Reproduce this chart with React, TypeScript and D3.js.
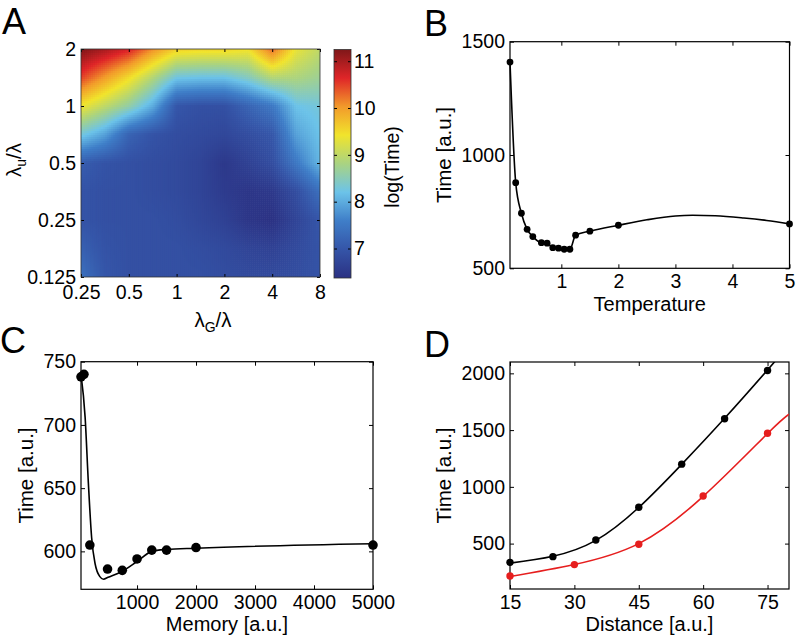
import React, { useRef, useEffect } from 'react';
import * as d3 from 'd3';

const FONT = '"Liberation Sans", Arial, Helvetica, sans-serif';

// ---- Panel A: log(Time) over lambda_G/lambda (columns) and lambda_u/lambda (rows)
const lambdaG = [0.25, 0.354, 0.5, 0.707, 1, 1.414, 2, 2.83, 4, 5.66, 8];
const lambdaU = [2, 1.414, 1, 0.707, 0.5, 0.354, 0.25, 0.177, 0.125];
const logTime = [
  [11.25, 11.0, 10.7, 10.1, 9.6, 9.55, 9.55, 9.45, 10.3, 9.35, 9.0],
  [10.5, 10.0, 9.5, 8.9, 8.25, 8.2, 8.2, 8.45, 8.9, 8.85, 8.7],
  [9.4, 9.0, 8.6, 8.0, 7.0, 6.9, 6.9, 7.2, 7.5, 8.2, 8.3],
  [8.3, 7.9, 7.2, 6.95, 6.85, 6.8, 6.75, 6.85, 7.0, 7.9, 8.2],
  [7.1, 6.95, 6.9, 6.85, 6.8, 6.7, 6.5, 6.65, 6.85, 7.5, 8.1],
  [6.95, 6.9, 6.9, 6.85, 6.8, 6.7, 6.55, 6.45, 6.5, 6.85, 7.4],
  [6.95, 6.9, 6.9, 6.9, 6.85, 6.75, 6.65, 6.45, 6.38, 6.7, 7.0],
  [7.15, 6.95, 6.9, 6.9, 6.9, 6.85, 6.8, 6.7, 6.65, 6.8, 6.95],
  [7.4, 7.0, 6.9, 6.9, 6.9, 6.9, 6.85, 6.8, 6.8, 6.85, 6.95],
];
const lambdaGTicks = [0.25, 0.5, 1, 2, 4, 8];
const lambdaGLabels = ['0.25', '0.5', '1', '2', '4', '8'];
const lambdaUTicks = [0.125, 0.25, 0.5, 1, 2];
const lambdaULabels = ['0.125', '0.25', '0.5', '1', '2'];
const colorbarTicks = [7, 8, 9, 10, 11];
const colorbarExtent = [6.37, 11.25];
const jetColors = ['#2b3183', '#3555a8', '#3f7ec8', '#6cc3e9', '#a9d382', '#f1e42c', '#f29a2b', '#df2528', '#7f1719'];

// ---- Panel B
const temperature = [0.1, 0.2, 0.3, 0.4, 0.5, 0.65, 0.75, 0.85, 0.95, 1.05, 1.15, 1.25, 1.5, 2, 5];
const timeB = [1410, 878, 743, 672, 640, 613, 611, 591, 589, 584, 584, 646, 664, 690, 696];
const temperatureFit = [0.1, 0.2, 0.3, 0.4, 0.5, 0.65, 0.75, 0.85, 0.95, 1.05, 1.15, 1.25, 1.5, 2, 2.5, 3, 3.3, 3.7, 4.2, 4.6, 5];
const timeBFit = [1410, 878, 743, 672, 640, 613, 611, 591, 589, 584, 584, 646, 664, 690, 714, 731, 734, 732, 722, 711, 696];
const temperatureTicks = [1, 2, 3, 4, 5];
const timeBTicks = [500, 1000, 1500];

// ---- Panel C
const memory = [50, 100, 200, 500, 750, 1000, 1250, 1500, 2000, 5000];
const timeC = [738, 740, 605, 586, 585, 594, 601, 601, 603, 605];
const memoryFit = [50, 120, 175, 230, 290, 370, 430, 510, 740, 1000, 1250, 1500, 2000, 5000];
const timeCFit = [740, 706, 654, 611, 590, 580, 578, 579.5, 584, 592, 600, 601.5, 602.5, 606];
const memoryTicks = [1000, 2000, 3000, 4000, 5000];
const timeCTicks = [600, 650, 700, 750];

// ---- Panel D
const distanceBlack = [15, 25, 35, 45, 55, 65, 75];
const timeBlack = [335, 385, 532, 820, 1200, 1600, 2025];
const distanceRed = [15, 30, 45, 60, 75];
const timeRed = [215, 315, 494, 919, 1472];
const distanceBlackFit = [15, 25, 35, 45, 55, 65, 75, 80];
const timeBlackFit = [328, 388, 528, 818, 1198, 1604, 2030, 2250];
const distanceRedFit = [15, 30, 45, 60, 75, 80];
const timeRedFit = [210, 316, 500, 916, 1470, 1640];
const distanceTicks = [15, 30, 45, 60, 75];
const timeDTicks = [500, 1000, 1500, 2000];

const styleAxis = (sel) => {
  sel.attr('font-size', 19.5).attr('font-family', FONT);
  sel.select('.domain').remove();
  sel.selectAll('line').attr('stroke', '#000').attr('stroke-width', 1);
  sel.selectAll('text').attr('fill', '#000');
};

// box with inward ticks on all four sides, labels on left and bottom
const drawFrame = (g, x, y, w, h, xTicks, yTicks, xFmt, yFmt) => {
  g.append('g').attr('transform', `translate(0,${h})`)
    .call(d3.axisBottom(x).tickValues(xTicks).tickSize(-4).tickSizeOuter(0).tickPadding(6).tickFormat(xFmt))
    .call(styleAxis);
  g.append('g')
    .call(d3.axisTop(x).tickValues(xTicks).tickSize(-4).tickSizeOuter(0).tickFormat(() => ''))
    .call(styleAxis);
  g.append('g')
    .call(d3.axisLeft(y).tickValues(yTicks).tickSize(-4).tickSizeOuter(0).tickPadding(5).tickFormat(yFmt))
    .call(styleAxis);
  g.append('g').attr('transform', `translate(${w},0)`)
    .call(d3.axisRight(y).tickValues(yTicks).tickSize(-4).tickSizeOuter(0).tickFormat(() => ''))
    .call(styleAxis);
  g.append('rect').attr('width', w).attr('height', h)
    .attr('fill', 'none').attr('stroke', '#000').attr('stroke-width', 1.2);
};

const addTitles = (svg, letter, lx, ly, xText, xx, xy, yText, yx, yy) => {
  svg.append('text').attr('x', lx).attr('y', ly).attr('font-size', 36).attr('font-family', FONT).text(letter);
  svg.append('text').attr('x', xx).attr('y', xy).attr('text-anchor', 'middle')
    .attr('font-size', 20).attr('font-family', FONT).text(xText);
  svg.append('text').attr('transform', `translate(${yx},${yy}) rotate(-90)`).attr('text-anchor', 'middle')
    .attr('font-size', 20.5).attr('font-family', FONT).text(yText);
};

const App = () => {
  const svgRef = useRef(null);

  useEffect(() => {
    const svg = d3.select(svgRef.current);
    svg.selectAll('*').remove();
    const defs = svg.append('defs');

    // ================= Panel A =================
    const aL = 81, aT = 49, aW = 239, aH = 228;
    const gA = svg.append('g').attr('transform', `translate(${aL},${aT})`);
    const hx = d3.scaleLog().base(2).domain([0.25, 8]).range([0, aW]);
    const hy = d3.scaleLog().base(2).domain([0.125, 2]).range([aH, 0]);
    const lo = colorbarExtent[0], hi = colorbarExtent[1];
    const color = d3.scaleLinear()
      .domain(jetColors.map((_, i) => lo + (i * (hi - lo)) / (jetColors.length - 1)))
      .range(jetColors)
      .interpolate(d3.interpolateRgb)
      .clamp(true);

    const ci = d3.scaleLog().base(2).domain([lambdaG[0], lambdaG[lambdaG.length - 1]]).range([0, lambdaG.length - 1]);
    const rj = d3.scaleLog().base(2).domain([lambdaU[0], lambdaU[lambdaU.length - 1]]).range([0, lambdaU.length - 1]);
    const valueAt = (gv, uv) => {
      const fi = Math.max(0, Math.min(lambdaG.length - 1, ci(gv)));
      const fj = Math.max(0, Math.min(lambdaU.length - 1, rj(uv)));
      const i0 = Math.min(Math.floor(fi), lambdaG.length - 2);
      const j0 = Math.min(Math.floor(fj), lambdaU.length - 2);
      const tx = fi - i0, ty = fj - j0;
      const a = logTime[j0][i0], b = logTime[j0][i0 + 1];
      const c = logTime[j0 + 1][i0], d = logTime[j0 + 1][i0 + 1];
      return (a * (1 - tx) + b * tx) * (1 - ty) + (c * (1 - tx) + d * tx) * ty;
    };

    const nx = 120, ny = 114;
    const gEdges = d3.range(nx + 1).map((k) => hx.invert((k * aW) / nx));
    const uEdges = d3.range(ny + 1).map((k) => hy.invert((k * aH) / ny));
    const cells = [];
    for (let i = 0; i < nx; i++) {
      for (let j = 0; j < ny; j++) {
        const gc = Math.sqrt(gEdges[i] * gEdges[i + 1]);
        const uc = Math.sqrt(uEdges[j] * uEdges[j + 1]);
        cells.push({ g0: gEdges[i], g1: gEdges[i + 1], u0: uEdges[j], u1: uEdges[j + 1], v: valueAt(gc, uc) });
      }
    }
    defs.append('clipPath').attr('id', 'clipA')
      .append('rect').attr('width', aW).attr('height', aH);
    gA.append('g').attr('clip-path', 'url(#clipA)')
      .selectAll('rect').data(cells).enter().append('rect')
      .attr('x', (d) => hx(d.g0))
      .attr('y', (d) => hy(d.u0))
      .attr('width', (d) => hx(d.g1) - hx(d.g0) + 0.6)
      .attr('height', (d) => hy(d.u1) - hy(d.u0) + 0.6)
      .attr('fill', (d) => color(d.v));

    gA.append('g').attr('transform', `translate(0,${aH})`)
      .call(d3.axisBottom(hx).tickValues(lambdaGTicks).tickSize(-3).tickSizeOuter(0).tickPadding(8)
        .tickFormat((d, i) => lambdaGLabels[i]))
      .call(styleAxis);
    gA.append('g')
      .call(d3.axisTop(hx).tickValues(lambdaGTicks).tickSize(-3).tickSizeOuter(0).tickFormat(() => ''))
      .call(styleAxis);
    gA.append('g')
      .call(d3.axisLeft(hy).tickValues(lambdaUTicks).tickSize(-3).tickSizeOuter(0).tickPadding(5)
        .tickFormat((d, i) => lambdaULabels[i]))
      .call(styleAxis);
    gA.append('g').attr('transform', `translate(${aW},0)`)
      .call(d3.axisRight(hy).tickValues(lambdaUTicks).tickSize(-3).tickSizeOuter(0).tickFormat(() => ''))
      .call(styleAxis);
    gA.append('rect').attr('width', aW).attr('height', aH)
      .attr('fill', 'none').attr('stroke', '#333').attr('stroke-width', 0.8);

    // colorbar
    const cbL = 334, cbW = 17, cbT = 49.5, cbH = 228.5;
    const cb = d3.scaleLinear().domain(colorbarExtent).range([cbH, 0]);
    const grad = defs.append('linearGradient').attr('id', 'jetGrad')
      .attr('x1', 0).attr('y1', 1).attr('x2', 0).attr('y2', 0);
    grad.selectAll('stop').data(color.domain()).enter().append('stop')
      .attr('offset', (d) => (cbH - cb(d)) / cbH)
      .attr('stop-color', (d) => color(d));
    const gCb = svg.append('g').attr('transform', `translate(${cbL},${cbT})`);
    gCb.append('rect').attr('width', cbW).attr('height', cbH).attr('fill', 'url(#jetGrad)');
    gCb.append('g').attr('transform', `translate(${cbW},0)`)
      .call(d3.axisRight(cb).tickValues(colorbarTicks).tickSize(-3).tickSizeOuter(0).tickPadding(3).tickFormat(d3.format('d')))
      .call(styleAxis);
    gCb.append('g')
      .call(d3.axisLeft(cb).tickValues(colorbarTicks).tickSize(-3).tickSizeOuter(0).tickFormat(() => ''))
      .call(styleAxis);
    gCb.append('rect').attr('width', cbW).attr('height', cbH)
      .attr('fill', 'none').attr('stroke', '#333').attr('stroke-width', 0.8);
    svg.append('text').attr('transform', 'translate(399,167) rotate(-90)').attr('text-anchor', 'middle')
      .attr('font-size', 19.5).attr('font-family', FONT).text('log(Time)');

    svg.append('text').attr('x', 2).attr('y', 34).attr('font-size', 36).attr('font-family', FONT).text('A');
    const xlA = svg.append('text').attr('x', 213).attr('y', 327).attr('text-anchor', 'middle')
      .attr('font-size', 20.5).attr('font-family', FONT);
    xlA.append('tspan').text('λ');
    xlA.append('tspan').attr('dy', 5).attr('font-size', 14).text('G');
    xlA.append('tspan').attr('dy', -5).text('/λ');
    const ylA = svg.append('text').attr('transform', 'translate(21,160) rotate(-90)').attr('text-anchor', 'middle')
      .attr('font-size', 20.5).attr('font-family', FONT);
    ylA.append('tspan').text('λ');
    ylA.append('tspan').attr('dy', 5).attr('font-size', 14).text('u');
    ylA.append('tspan').attr('dy', -5).text('/λ');

    // ================= Panel B =================
    const bL = 510, bT = 41.7, bW = 279.5, bH = 226.6;
    const gB = svg.append('g').attr('transform', `translate(${bL},${bT})`);
    const xB = d3.scaleLinear().domain([0.1, 5]).range([0, bW]);
    const yB = d3.scaleLinear().domain([500, 1500]).range([bH, 0]);
    drawFrame(gB, xB, yB, bW, bH, temperatureTicks, timeBTicks, d3.format('d'), d3.format('d'));
    gB.append('path').datum(temperatureFit.map((t, i) => [t, timeBFit[i]]))
      .attr('fill', 'none').attr('stroke', '#000').attr('stroke-width', 1.6)
      .attr('d', d3.line().x((d) => xB(d[0])).y((d) => yB(d[1])).curve(d3.curveMonotoneX));
    gB.selectAll('.dotB').data(temperature.map((t, i) => [t, timeB[i]])).enter().append('circle')
      .attr('cx', (d) => xB(d[0])).attr('cy', (d) => yB(d[1])).attr('r', 3.4).attr('fill', '#000');
    addTitles(svg, 'B', 424, 36, 'Temperature', bL + bW / 2, 311, 'Time [a.u.]', 451, bT + bH / 2);

    // ================= Panel C =================
    const cL = 81, cT = 361.7, cW = 292, cH = 227.6;
    const gC = svg.append('g').attr('transform', `translate(${cL},${cT})`);
    const xC = d3.scaleLinear().domain([50, 5000]).range([0, cW]);
    const yC = d3.scaleLinear().domain([570, 750]).range([cH, 0]);
    drawFrame(gC, xC, yC, cW, cH, memoryTicks, timeCTicks, d3.format('d'), d3.format('d'));
    gC.append('path').datum(memoryFit.map((m, i) => [m, timeCFit[i]]))
      .attr('fill', 'none').attr('stroke', '#000').attr('stroke-width', 1.6)
      .attr('d', d3.line().x((d) => xC(d[0])).y((d) => yC(d[1])).curve(d3.curveMonotoneX));
    gC.selectAll('.dotC').data(memory.map((m, i) => [m, timeC[i]])).enter().append('circle')
      .attr('cx', (d) => xC(d[0])).attr('cy', (d) => yC(d[1])).attr('r', 4.8).attr('fill', '#000');
    addTitles(svg, 'C', 0, 353, 'Memory [a.u.]', cL + cW / 2, 631, 'Time [a.u.]', 33, cT + cH / 2);

    // ================= Panel D =================
    const dL = 510, dT = 362, dW = 279, dH = 227;
    const gD = svg.append('g').attr('transform', `translate(${dL},${dT})`);
    const xD = d3.scaleLinear().domain([15, 80]).range([0, dW]);
    const yD = d3.scaleLinear().domain([100, 2100]).range([dH, 0]);
    drawFrame(gD, xD, yD, dW, dH, distanceTicks, timeDTicks, d3.format('d'), d3.format('d'));
    defs.append('clipPath').attr('id', 'clipD')
      .append('rect').attr('width', dW).attr('height', dH);
    const lineD = d3.line().x((d) => xD(d[0])).y((d) => yD(d[1])).curve(d3.curveNatural);
    const series = [
      { color: '#000', fit: distanceBlackFit.map((x, i) => [x, timeBlackFit[i]]), pts: distanceBlack.map((x, i) => [x, timeBlack[i]]) },
      { color: '#e61e1e', fit: distanceRedFit.map((x, i) => [x, timeRedFit[i]]), pts: distanceRed.map((x, i) => [x, timeRed[i]]) },
    ];
    series.forEach((s) => {
      gD.append('path').datum(s.fit).attr('clip-path', 'url(#clipD)')
        .attr('fill', 'none').attr('stroke', s.color).attr('stroke-width', 1.6).attr('d', lineD);
      gD.append('g').selectAll('circle').data(s.pts).enter().append('circle')
        .attr('cx', (d) => xD(d[0])).attr('cy', (d) => yD(d[1])).attr('r', 3.7).attr('fill', s.color);
    });
    addTitles(svg, 'D', 424, 357, 'Distance [a.u.]', dL + dW / 2, 631, 'Time [a.u.]', 450.5, dT + dH / 2);
  }, []);

  return (
    <svg ref={svgRef} width={796} height={637}
      style={{ position: 'absolute', left: 0, top: 0, background: '#fff' }} />
  );
};

export default App;
